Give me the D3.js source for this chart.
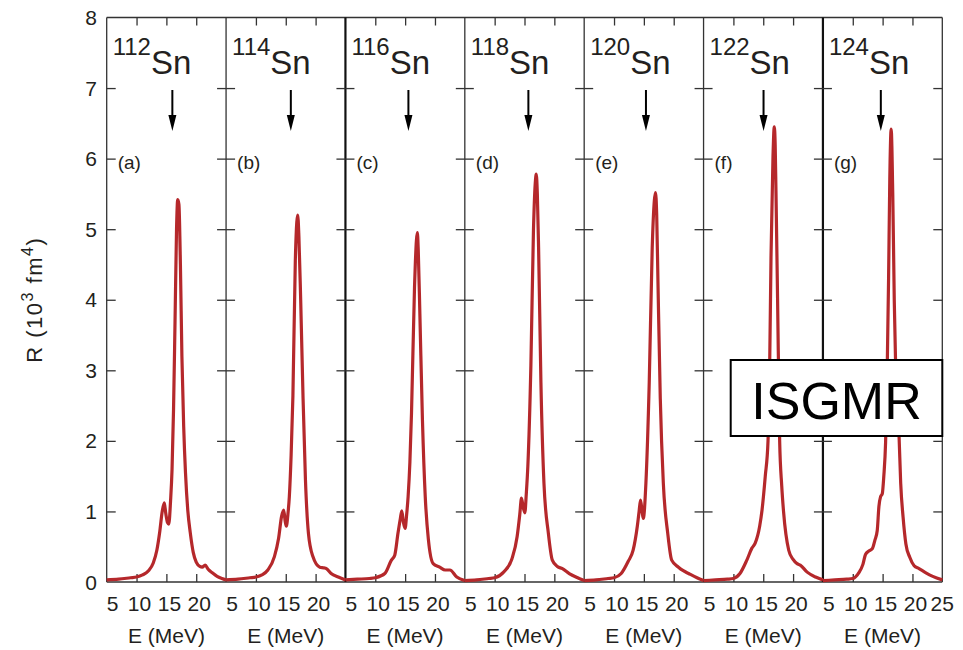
<!DOCTYPE html>
<html>
<head>
<meta charset="utf-8">
<script src="https://cdn.jsdelivr.net/npm/d3@7"></script>
<style>
body { margin: 0; background: #fff; }
text { font-family: "Liberation Sans", Arial, sans-serif; fill: #231f20; }
</style>
</head>
<body>
<script>
//isotopes, panel tags and the experimental centroid (arrows)
var isotopes = ["112", "114", "116", "118", "120", "122", "124"];
var panelTags = ["(a)", "(b)", "(c)", "(d)", "(e)", "(f)", "(g)"];
var arrowE = [16.0, 15.85, 15.55, 15.65, 15.35, 15.05, 14.7];

//strength functions R(E), [E in MeV, R in 10^3 fm^4]
var sn112 = [[5,0.03],[7,0.04],[9,0.06],[10,0.07],[11,0.1],[12,0.16],[12.8,0.27],[13.4,0.45],[13.9,0.72],[14.3,1.0],[14.65,1.12],[14.9,0.97],[15.2,0.84],[15.4,0.82],[15.7,1.15],[15.95,1.6],[16.2,2.45],[16.45,3.7],[16.7,5.0],[16.9,5.42],[17.1,5.35],[17.35,4.5],[17.6,3.2],[17.9,2.2],[18.2,1.55],[18.6,1.0],[19.0,0.7],[19.5,0.42],[20.0,0.28],[20.6,0.22],[21.0,0.21],[21.5,0.24],[22.0,0.18],[22.7,0.13],[23.5,0.08],[24.3,0.05],[25,0.03]];
var sn114 = [[5,0.03],[7,0.04],[9,0.06],[10,0.07],[11,0.1],[12,0.17],[13.1,0.36],[13.8,0.62],[14.3,0.93],[14.66,1.02],[14.9,0.86],[15.1,0.79],[15.35,0.95],[15.6,1.21],[15.9,1.8],[16.2,2.64],[16.6,4.55],[16.85,5.1],[17.0,5.2],[17.2,4.9],[17.5,4.0],[17.9,2.6],[18.3,1.45],[18.8,0.69],[19.55,0.36],[20.7,0.21],[21.4,0.2],[21.8,0.19],[22.6,0.12],[23.8,0.07],[25,0.03]];
var sn116 = [[5,0.03],[7,0.04],[9,0.05],[10,0.06],[11.6,0.12],[12.7,0.31],[13.26,0.38],[13.8,0.69],[14.2,0.9],[14.44,1.01],[14.7,0.85],[15.0,0.76],[15.25,0.95],[15.5,1.21],[15.8,1.7],[16.07,2.4],[16.57,4.17],[16.9,4.85],[17.05,4.95],[17.2,4.7],[17.47,3.8],[17.9,2.3],[18.37,1.21],[18.9,0.6],[19.7,0.26],[20.8,0.21],[21.7,0.17],[22.5,0.17],[23.65,0.07],[25,0.02]];
var sn118 = [[5,0.02],[7,0.03],[9,0.05],[10,0.06],[11.5,0.14],[12.9,0.33],[13.76,0.64],[14.2,0.95],[14.5,1.19],[14.8,1.05],[15.06,0.98],[15.3,1.25],[15.56,1.64],[16.07,3.07],[16.5,4.98],[16.8,5.65],[16.97,5.78],[17.15,5.5],[17.36,4.74],[17.75,2.83],[18.26,1.4],[19.0,0.69],[19.66,0.31],[20.5,0.22],[21.35,0.19],[22.5,0.12],[23.9,0.06],[25,0.02]];
var sn120 = [[5,0.02],[7,0.03],[9,0.05],[10,0.06],[11.2,0.12],[12.36,0.29],[13.2,0.45],[13.9,0.79],[14.2,1.0],[14.44,1.16],[14.7,1.0],[14.9,0.9],[15.34,1.4],[15.9,2.83],[16.4,4.74],[16.75,5.4],[16.95,5.52],[17.15,5.2],[17.36,4.26],[17.75,2.6],[18.26,1.4],[19.0,0.69],[19.66,0.31],[20.8,0.21],[21.6,0.16],[22.5,0.12],[23.9,0.06],[25,0.02]];
var sn122 = [[5,0.02],[7,0.03],[9,0.04],[10,0.05],[11.1,0.12],[12.25,0.31],[13.1,0.48],[13.65,0.55],[14.4,0.79],[14.8,1.02],[15.34,1.5],[15.8,2.0],[16.07,3.02],[16.3,4.6],[16.63,6.02],[16.85,6.45],[17.0,6.2],[17.13,5.55],[17.4,4.02],[17.75,2.0],[18.1,1.36],[18.4,1.0],[19.27,0.45],[20.0,0.32],[20.67,0.26],[21.2,0.24],[22.36,0.14],[23.76,0.07],[25,0.03]];
var sn124 = [[5,0.02],[7,0.03],[9,0.04],[10,0.05],[11.0,0.13],[11.7,0.25],[12.13,0.39],[12.7,0.44],[13.26,0.47],[13.7,0.59],[14.1,0.73],[14.38,1.07],[14.66,1.21],[14.94,1.25],[15.2,1.5],[15.5,1.98],[15.75,2.9],[16.0,4.3],[16.2,5.7],[16.43,6.42],[16.7,5.5],[16.95,4.0],[17.25,2.8],[17.75,2.08],[18.03,1.4],[18.43,0.92],[18.9,0.54],[19.55,0.35],[20.28,0.23],[21.1,0.19],[22.25,0.13],[23.4,0.08],[25,0.03]];
var curves = [sn112, sn114, sn116, sn118, sn120, sn122, sn124];

//ticks
var xTicks = [10, 15, 20];
var xTickLabels = [5, 10, 15, 20];
var yTicks = [1, 2, 3, 4, 5, 6, 7];
var yTickLabels = [0, 1, 2, 3, 4, 5, 6, 7, 8];

//width and height
var w = 963;
var h = 650;
//plot box (window.top is read-only, so use own names)
var plotL = 106.7, plotR = 942.3, plotT = 17.5, plotB = 582;
var pw = (plotR - plotL) / 7;

var svg = d3.select("body")
            .append("svg")
            .attr("width", w)
            .attr("height", h);

var y = d3.scaleLinear().domain([0, 8]).range([plotB, plotT]);

var line = d3.line()
            .x(function(d) { return d[0]; })
            .y(function(d) { return d[1]; })
            .curve(d3.curveMonotoneX);

//frame dividers (a couple print heavier in the original)
var divWidth = [1.3, 1.3, 2.2, 1.3, 1.3, 1.3, 2.2, 1.3];

//frame lines
svg.append("line").attr("x1", plotL).attr("x2", plotR).attr("y1", plotT).attr("y2", plotT)
    .attr("stroke", "#333").attr("stroke-width", 1.3);
svg.append("line").attr("x1", plotL).attr("x2", plotR).attr("y1", plotB).attr("y2", plotB)
    .attr("stroke", "#333").attr("stroke-width", 1.3);
svg.selectAll("line.div")
    .data(d3.range(8))
    .enter()
    .append("line")
    .attr("class", "div")
    .attr("x1", function(d) { return plotL + d * pw; })
    .attr("x2", function(d) { return plotL + d * pw; })
    .attr("y1", plotT).attr("y2", plotB)
    .attr("stroke", function(d) { return divWidth[d] > 2 ? "#111" : "#333"; })
    .attr("stroke-width", function(d) { return divWidth[d]; });

for (var i = 0; i < 7; i++) {
    var x = d3.scaleLinear().domain([5, 25]).range([plotL + i * pw, plotL + (i + 1) * pw]);
    var g = svg.append("g");

    //inward ticks on all four sides
    g.append("g").attr("transform", "translate(0," + plotB + ")")
        .call(d3.axisBottom(x).tickValues(xTicks).tickSize(-8).tickFormat(""));
    g.append("g").attr("transform", "translate(0," + plotT + ")")
        .call(d3.axisTop(x).tickValues(xTicks).tickSize(-8).tickFormat(""));
    g.append("g").attr("transform", "translate(" + x(5) + ",0)")
        .call(d3.axisLeft(y).tickValues(yTicks).tickSize(-9).tickFormat(""));
    g.append("g").attr("transform", "translate(" + x(25) + ",0)")
        .call(d3.axisRight(y).tickValues(yTicks).tickSize(-9).tickFormat(""));
    g.selectAll(".domain").remove();
    g.selectAll(".tick line").attr("stroke", "#333").attr("stroke-width", 1.3);

    //x tick labels
    var labs = i === 6 ? xTickLabels.concat([25]) : xTickLabels;
    g.selectAll("text.xl")
        .data(labs)
        .enter()
        .append("text")
        .attr("class", "xl")
        .attr("x", function(d) { return x(d) + (d === 5 ? 6 : d === 25 ? 0 : 3); })
        .attr("y", 611)
        .attr("text-anchor", "middle")
        .style("font-size", "21px")
        .text(function(d) { return d; });

    //axis title under each panel
    g.append("text")
        .attr("x", (x(5) + x(25)) / 2)
        .attr("y", 643)
        .attr("text-anchor", "middle")
        .style("font-size", "21px")
        .text("E (MeV)");

    //isotope label
    var lab = g.append("text").attr("x", x(5) + 6).attr("y", 55);
    lab.append("tspan").style("font-size", "24px").text(isotopes[i]);
    lab.append("tspan").attr("dy", 19).style("font-size", "33px").text("Sn");

    //panel tag
    g.append("text")
        .attr("x", x(5) + 11)
        .attr("y", 169)
        .style("font-size", "19px")
        .text(panelTags[i]);

    //experimental arrow
    var ax = x(arrowE[i]);
    g.append("line")
        .attr("x1", ax).attr("x2", ax)
        .attr("y1", 90).attr("y2", 118)
        .attr("stroke", "#000").attr("stroke-width", 2);
    g.append("path")
        .attr("d", "M" + (ax - 4) + ",115L" + (ax + 4) + ",115L" + ax + ",131Z")
        .attr("fill", "#000");

    //strength curve
    var pts = curves[i].map(function(d) { return [x(d[0]), y(d[1])]; });
    g.append("path")
        .attr("d", line(pts))
        .attr("fill", "none")
        .attr("stroke", "#b5282b")
        .attr("stroke-width", 3.2)
        .attr("stroke-linejoin", "round");
}

//y tick labels
svg.selectAll("text.yl")
    .data(yTickLabels)
    .enter()
    .append("text")
    .attr("class", "yl")
    .attr("x", 97)
    .attr("y", function(d) { return y(d); })
    .attr("dy", "0.36em")
    .attr("text-anchor", "end")
    .style("font-size", "21px")
    .text(function(d) { return d; });

//y axis title
var yt = svg.append("text")
    .attr("transform", "translate(42," + ((plotT + plotB) / 2) + ") rotate(-90)")
    .attr("text-anchor", "middle")
    .style("font-size", "22px")
    .style("letter-spacing", "1.5px");
yt.append("tspan").text("R (10");
yt.append("tspan").attr("dy", -9).style("font-size", "16px").text("3");
yt.append("tspan").attr("dy", 9).text(" fm");
yt.append("tspan").attr("dy", -9).style("font-size", "16px").text("4");
yt.append("tspan").attr("dy", 9).text(")");

//ISGMR box
svg.append("rect")
    .attr("x", 730.7).attr("y", 360)
    .attr("width", plotR - 730.7).attr("height", 76)
    .attr("fill", "#fff").attr("stroke", "#000").attr("stroke-width", 2);
svg.append("text")
    .attr("x", (730.7 + plotR) / 2)
    .attr("y", 419)
    .attr("text-anchor", "middle")
    .style("font-size", "52px")
    .style("fill", "#000")
    .text("ISGMR");
</script>
</body>
</html>
